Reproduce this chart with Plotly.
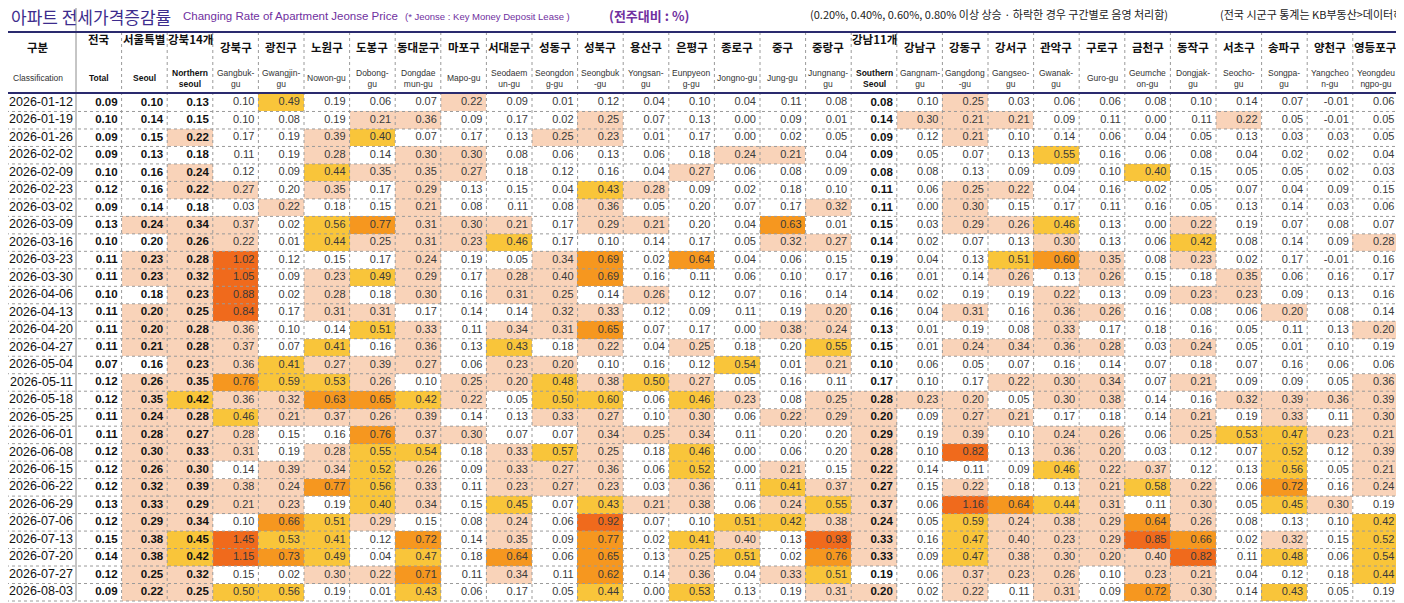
import plotly.graph_objects as go

# --- data -------------------------------------------------------------
dates = [
    "2026-01-12", "2026-01-19", "2026-01-26", "2026-02-02", "2026-02-09",
    "2026-02-23", "2026-03-02", "2026-03-09", "2026-03-16", "2026-03-23",
    "2026-03-30", "2026-04-06", "2026-04-13", "2026-04-20", "2026-04-27",
    "2026-05-04", "2026-05-11", "2026-05-18", "2026-05-25", "2026-06-01",
    "2026-06-08", "2026-06-15", "2026-06-22", "2026-06-29", "2026-07-06",
    "2026-07-13", "2026-07-20", "2026-07-27", "2026-08-03",
]

ko_heads = ["전국", "서울특별", "강북14개", "강북구", "광진구", "노원구", "도봉구",
            "동대문구", "마포구", "서대문구", "성동구", "성북구", "용산구", "은평구",
            "종로구", "중구", "중랑구", "강남11개", "강남구", "강동구", "강서구",
            "관악구", "구로구", "금천구", "동작구", "서초구", "송파구", "양천구",
            "영등포구"]

en_heads = ["Total", "Seoul", "Northern<br>seoul", "Gangbuk-<br>gu", "Gwangjin-<br>gu",
            "Nowon-gu", "Dobong-<br>gu", "Dongdae<br>mun-gu", "Mapo-gu",
            "Seodaem<br>un-gu", "Seongdon<br>g-gu", "Seongbuk<br>-gu", "Yongsan-<br>gu",
            "Eunpyeon<br>g-gu", "Jongno-gu", "Jung-gu", "Jungnang-<br>gu",
            "Southern<br>Seoul", "Gangnam-<br>gu", "Gangdong<br>-gu", "Gangseo-<br>gu",
            "Gwanak-<br>gu", "Guro-gu", "Geumche<br>on-gu", "Dongjak-<br>gu",
            "Seocho-<br>gu", "Songpa-<br>gu", "Yangcheo<br>n-gu", "Yeongdeu<br>ngpo-gu"]

# aggregate columns (전국, 서울, 강북14개구, 강남11개구) are printed in bold
bold_cols = [0, 1, 2, 17]

# weekly change (%), one list per week; a few values carry a third decimal
# where the sheet's shading shows which side of a band edge they fall on
wk_0112 = [0.09, 0.10, 0.13, 0.10, 0.49, 0.19, 0.06, 0.07, 0.22, 0.09, 0.01, 0.12, 0.04, 0.10, 0.04, 0.11, 0.08, 0.08, 0.10, 0.25, 0.03, 0.06, 0.06, 0.08, 0.10, 0.14, 0.07, -0.01, 0.06]
wk_0119 = [0.10, 0.14, 0.15, 0.10, 0.08, 0.19, 0.21, 0.36, 0.09, 0.17, 0.02, 0.25, 0.07, 0.13, 0.00, 0.09, 0.01, 0.14, 0.30, 0.21, 0.21, 0.09, 0.11, 0.00, 0.11, 0.22, 0.05, -0.01, 0.05]
wk_0126 = [0.09, 0.15, 0.22, 0.17, 0.19, 0.39, 0.40, 0.07, 0.17, 0.13, 0.25, 0.23, 0.01, 0.17, 0.00, 0.02, 0.05, 0.09, 0.12, 0.21, 0.10, 0.14, 0.06, 0.04, 0.05, 0.13, 0.03, 0.03, 0.05]
wk_0202 = [0.09, 0.13, 0.18, 0.11, 0.19, 0.28, 0.14, 0.30, 0.30, 0.08, 0.06, 0.13, 0.06, 0.18, 0.24, 0.21, 0.04, 0.09, 0.05, 0.07, 0.13, 0.55, 0.16, 0.06, 0.08, 0.04, 0.02, 0.02, 0.04]
wk_0209 = [0.10, 0.16, 0.24, 0.12, 0.09, 0.44, 0.35, 0.35, 0.27, 0.18, 0.12, 0.16, 0.04, 0.27, 0.06, 0.08, 0.09, 0.08, 0.08, 0.13, 0.09, 0.09, 0.10, 0.40, 0.15, 0.05, 0.05, 0.02, 0.03]
wk_0223 = [0.12, 0.16, 0.22, 0.27, 0.198, 0.35, 0.17, 0.29, 0.13, 0.15, 0.04, 0.43, 0.28, 0.09, 0.02, 0.18, 0.10, 0.11, 0.06, 0.25, 0.22, 0.04, 0.16, 0.02, 0.05, 0.07, 0.04, 0.09, 0.15]
wk_0302 = [0.09, 0.14, 0.18, 0.03, 0.22, 0.18, 0.15, 0.21, 0.08, 0.11, 0.08, 0.36, 0.05, 0.198, 0.07, 0.17, 0.32, 0.11, 0.00, 0.30, 0.15, 0.17, 0.11, 0.16, 0.05, 0.13, 0.14, 0.03, 0.06]
wk_0309 = [0.13, 0.24, 0.34, 0.37, 0.02, 0.56, 0.77, 0.31, 0.30, 0.21, 0.17, 0.29, 0.21, 0.198, 0.04, 0.63, 0.01, 0.15, 0.03, 0.29, 0.26, 0.46, 0.13, 0.00, 0.22, 0.19, 0.07, 0.08, 0.07]
wk_0316 = [0.10, 0.198, 0.26, 0.22, 0.01, 0.44, 0.25, 0.31, 0.23, 0.46, 0.17, 0.10, 0.14, 0.17, 0.05, 0.32, 0.27, 0.14, 0.02, 0.07, 0.13, 0.30, 0.13, 0.06, 0.42, 0.08, 0.14, 0.09, 0.28]
wk_0323 = [0.11, 0.23, 0.28, 1.02, 0.12, 0.15, 0.17, 0.24, 0.19, 0.05, 0.34, 0.69, 0.02, 0.64, 0.04, 0.06, 0.15, 0.19, 0.04, 0.13, 0.51, 0.60, 0.35, 0.08, 0.23, 0.02, 0.17, -0.01, 0.16]
wk_0330 = [0.11, 0.23, 0.32, 1.05, 0.09, 0.23, 0.49, 0.29, 0.17, 0.28, 0.398, 0.69, 0.16, 0.11, 0.06, 0.10, 0.17, 0.16, 0.01, 0.14, 0.26, 0.13, 0.26, 0.15, 0.18, 0.35, 0.06, 0.16, 0.17]
wk_0406 = [0.10, 0.18, 0.23, 0.88, 0.02, 0.28, 0.18, 0.30, 0.16, 0.31, 0.25, 0.14, 0.26, 0.12, 0.07, 0.16, 0.14, 0.14, 0.02, 0.19, 0.19, 0.22, 0.13, 0.09, 0.23, 0.23, 0.09, 0.13, 0.16]
wk_0413 = [0.11, 0.20, 0.25, 0.84, 0.17, 0.31, 0.31, 0.17, 0.14, 0.14, 0.32, 0.33, 0.12, 0.09, 0.11, 0.19, 0.20, 0.16, 0.04, 0.31, 0.16, 0.36, 0.26, 0.16, 0.08, 0.06, 0.20, 0.08, 0.14]
wk_0420 = [0.11, 0.20, 0.28, 0.36, 0.10, 0.14, 0.51, 0.33, 0.11, 0.34, 0.31, 0.65, 0.07, 0.17, 0.00, 0.38, 0.24, 0.13, 0.01, 0.19, 0.08, 0.33, 0.17, 0.18, 0.16, 0.05, 0.11, 0.13, 0.20]
wk_0427 = [0.11, 0.21, 0.28, 0.37, 0.07, 0.41, 0.16, 0.36, 0.13, 0.43, 0.18, 0.22, 0.04, 0.25, 0.18, 0.198, 0.55, 0.15, 0.01, 0.24, 0.34, 0.36, 0.28, 0.03, 0.24, 0.05, 0.01, 0.10, 0.19]
wk_0504 = [0.07, 0.16, 0.23, 0.36, 0.41, 0.27, 0.39, 0.27, 0.06, 0.23, 0.20, 0.10, 0.16, 0.12, 0.54, 0.01, 0.21, 0.10, 0.06, 0.05, 0.07, 0.16, 0.14, 0.07, 0.18, 0.07, 0.16, 0.06, 0.06]
wk_0511 = [0.12, 0.26, 0.35, 0.76, 0.59, 0.53, 0.26, 0.10, 0.25, 0.20, 0.48, 0.38, 0.50, 0.27, 0.05, 0.16, 0.11, 0.17, 0.10, 0.17, 0.22, 0.30, 0.34, 0.07, 0.21, 0.09, 0.09, 0.05, 0.36]
wk_0518 = [0.12, 0.35, 0.42, 0.36, 0.32, 0.63, 0.65, 0.42, 0.22, 0.05, 0.50, 0.598, 0.06, 0.46, 0.23, 0.08, 0.25, 0.28, 0.23, 0.20, 0.05, 0.30, 0.38, 0.14, 0.16, 0.32, 0.39, 0.36, 0.39]
wk_0525 = [0.11, 0.24, 0.28, 0.46, 0.21, 0.37, 0.26, 0.39, 0.14, 0.13, 0.33, 0.27, 0.10, 0.30, 0.06, 0.22, 0.29, 0.20, 0.09, 0.27, 0.21, 0.17, 0.18, 0.14, 0.21, 0.19, 0.33, 0.11, 0.30]
wk_0601 = [0.11, 0.28, 0.27, 0.28, 0.15, 0.16, 0.76, 0.37, 0.30, 0.07, 0.07, 0.34, 0.25, 0.34, 0.11, 0.198, 0.198, 0.29, 0.19, 0.39, 0.10, 0.24, 0.26, 0.06, 0.25, 0.53, 0.47, 0.23, 0.21]
wk_0608 = [0.12, 0.30, 0.33, 0.31, 0.19, 0.28, 0.55, 0.54, 0.18, 0.33, 0.57, 0.25, 0.18, 0.46, 0.00, 0.06, 0.198, 0.28, 0.10, 0.82, 0.13, 0.36, 0.20, 0.03, 0.12, 0.07, 0.52, 0.12, 0.39]
wk_0615 = [0.12, 0.26, 0.30, 0.14, 0.39, 0.34, 0.52, 0.26, 0.09, 0.33, 0.27, 0.36, 0.06, 0.52, 0.00, 0.21, 0.15, 0.22, 0.14, 0.11, 0.09, 0.46, 0.22, 0.37, 0.12, 0.13, 0.56, 0.05, 0.21]
wk_0622 = [0.12, 0.32, 0.39, 0.38, 0.24, 0.77, 0.56, 0.33, 0.11, 0.23, 0.27, 0.23, 0.03, 0.36, 0.11, 0.41, 0.37, 0.27, 0.15, 0.22, 0.18, 0.13, 0.21, 0.58, 0.22, 0.06, 0.72, 0.16, 0.24]
wk_0629 = [0.13, 0.33, 0.29, 0.21, 0.23, 0.19, 0.40, 0.34, 0.15, 0.45, 0.07, 0.43, 0.21, 0.38, 0.06, 0.24, 0.55, 0.37, 0.06, 1.16, 0.64, 0.44, 0.31, 0.11, 0.30, 0.05, 0.45, 0.30, 0.19]
wk_0706 = [0.12, 0.29, 0.34, 0.10, 0.66, 0.51, 0.29, 0.15, 0.08, 0.24, 0.06, 0.92, 0.07, 0.10, 0.51, 0.42, 0.38, 0.24, 0.05, 0.59, 0.24, 0.38, 0.29, 0.64, 0.26, 0.08, 0.13, 0.10, 0.42]
wk_0713 = [0.15, 0.38, 0.45, 1.45, 0.53, 0.41, 0.12, 0.72, 0.14, 0.35, 0.09, 0.77, 0.02, 0.41, 0.398, 0.13, 0.93, 0.33, 0.16, 0.47, 0.398, 0.23, 0.29, 0.85, 0.66, 0.02, 0.32, 0.15, 0.52]
wk_0720 = [0.14, 0.38, 0.42, 1.15, 0.73, 0.49, 0.04, 0.47, 0.18, 0.64, 0.06, 0.65, 0.13, 0.25, 0.51, 0.02, 0.76, 0.33, 0.09, 0.47, 0.38, 0.30, 0.20, 0.398, 0.82, 0.11, 0.48, 0.06, 0.54]
wk_0727 = [0.12, 0.25, 0.32, 0.15, 0.02, 0.30, 0.22, 0.71, 0.11, 0.34, 0.11, 0.62, 0.14, 0.36, 0.04, 0.33, 0.51, 0.19, 0.06, 0.37, 0.23, 0.26, 0.10, 0.23, 0.21, 0.04, 0.12, 0.18, 0.44]
wk_0803 = [0.09, 0.22, 0.25, 0.50, 0.56, 0.19, 0.01, 0.43, 0.06, 0.17, 0.05, 0.44, 0.00, 0.53, 0.13, 0.19, 0.31, 0.20, 0.02, 0.22, 0.11, 0.31, 0.09, 0.72, 0.30, 0.14, 0.43, 0.05, 0.19]

weeks = [wk_0112, wk_0119, wk_0126, wk_0202, wk_0209, wk_0223, wk_0302, wk_0309,
         wk_0316, wk_0323, wk_0330, wk_0406, wk_0413, wk_0420, wk_0427, wk_0504,
         wk_0511, wk_0518, wk_0525, wk_0601, wk_0608, wk_0615, wk_0622, wk_0629,
         wk_0706, wk_0713, wk_0720, wk_0727, wk_0803]

# shading bands: 0.20 / 0.40 / 0.60 / 0.80 % and up
bands = [0.2, 0.4, 0.6, 0.8]
fills = ["#ffffff", "#f9d3b9", "#f9c53a", "#f6971f", "#f06a1c"]

# --- geometry (axes run in page pixels) --------------------------------
W, H = 1404, 603
PAD = 8  # browser's default body margin shifts the figure by this much
DATE_W = 76
COL_W = 45.6
HEAD_TOP, HEAD_BOT = 32, 94
ROW_H = (601 - HEAD_BOT) / len(dates)

ncol = len(ko_heads)
x_edges = [DATE_W + i * COL_W for i in range(ncol + 1)]
y_edges = [HEAD_BOT + j * ROW_H for j in range(len(dates) + 1)]
y_mid = [(y_edges[j] + y_edges[j + 1]) / 2 for j in range(len(dates))]
x_mid = [(x_edges[i] + x_edges[i + 1]) / 2 for i in range(ncol)]

levels = [[sum(abs(v) >= b for b in bands) for v in wk] for wk in weeks]

scale = []
for k, c in enumerate(fills):
    scale += [[k / len(fills), c], [(k + 1) / len(fills), c]]

fig = go.Figure()
fig.add_trace(go.Heatmap(z=levels, x=x_edges, y=y_edges, zmin=-0.5, zmax=4.5,
                         colorscale=scale, showscale=False, hoverinfo="skip"))

# cell values, right aligned like the spreadsheet
for bold in (False, True):
    xs, ys, ts = [], [], []
    for j, wk in enumerate(weeks):
        for i, v in enumerate(wk):
            if (i in bold_cols) == bold:
                xs.append(x_edges[i + 1] - 4)
                ys.append(y_mid[j])
                ts.append(f"{v:.2f}")
    fig.add_trace(go.Scatter(
        x=xs, y=ys, text=ts, mode="text", textposition="middle left",
        hoverinfo="skip",
        textfont=dict(family="Liberation Sans", size=11.5 if bold else 11,
                      color="#111111" if bold else "#3a3a3a",
                      weight="bold" if bold else "normal")))

fig.add_trace(go.Scatter(
    x=[DATE_W - 3] * len(dates), y=y_mid, text=dates, mode="text",
    textposition="middle left", hoverinfo="skip",
    textfont=dict(family="Liberation Sans", size=12.5, color="#111111")))

# --- grid lines --------------------------------------------------------
shapes = []
for y in y_edges[1:]:
    shapes.append(dict(type="line", x0=0, x1=W, y0=y, y1=y,
                       line=dict(color="#9a9a9a", width=1, dash="dot")))
for x in x_edges[1:]:
    shapes.append(dict(type="line", x0=x, x1=x, y0=HEAD_TOP, y1=y_edges[-1],
                       line=dict(color="#9a9a9a", width=1, dash="dot")))
shapes.append(dict(type="line", x0=DATE_W, x1=DATE_W, y0=0, y1=y_edges[-1],
                   line=dict(color="#8c8c8c", width=1)))
for y in (HEAD_TOP, HEAD_BOT - 1):
    shapes.append(dict(type="line", x0=0, x1=W, y0=y, y1=y,
                       line=dict(color="#2a2a6e", width=2)))

# --- header and title text ---------------------------------------------
ko_font = dict(family="Noto Sans CJK KR", size=11.5, color="#111111", weight="bold")
en_font = dict(family="Liberation Sans", size=8.5, color="#333333")
ann = [
    dict(x=DATE_W / 2, y=47, text="구분", font=ko_font),
    dict(x=DATE_W / 2, y=78, text="Classification", font=en_font),
]
for i in range(ncol):
    top = i in bold_cols
    ann.append(dict(x=x_mid[i], y=39 if top else 47, text=ko_heads[i], font=ko_font))
    ann.append(dict(x=x_mid[i], y=78, text=en_heads[i],
                    font=dict(en_font, weight="bold", color="#111111") if top else en_font))

purple = "#7030a0"
ann += [
    dict(x=PAD + 0.5, y=16, text="아파트 전세가격증감률", xanchor="left",
         font=dict(family="Noto Sans CJK KR", size=17, color="#3d2c8d")),
    dict(x=181, y=16, text="Changing Rate of Apartment Jeonse Price", xanchor="left",
         font=dict(family="Liberation Sans", size=11.5, color=purple)),
    dict(x=403, y=16, text="(* Jeonse : Key Money Deposit Lease )", xanchor="left",
         font=dict(family="Liberation Sans", size=9.5, color=purple)),
    dict(x=607, y=15, text="(전주대비 : %)", xanchor="left",
         font=dict(family="Noto Sans CJK KR", size=13, color=purple, weight="bold")),
    dict(x=808, y=14, text="(0.20%, 0.40%, 0.60%, 0.80% 이상 상승 · 하락한 경우 구간별로 음영 처리함)",
         xanchor="left", font=dict(family="Noto Sans CJK KR", size=11, color="#222222")),
    dict(x=1218, y=14, text="(전국 시군구 통계는 KB부동산>데이터허브)", xanchor="left",
         font=dict(family="Noto Sans CJK KR", size=11, color="#222222")),
]
for a in ann:
    a.update(xref="x", yref="y", showarrow=False)
    a.setdefault("xanchor", "center")
    a.setdefault("yanchor", "middle")

fig.update_layout(
    width=W, height=H, margin=dict(l=0, r=0, t=0, b=0),
    paper_bgcolor="white", plot_bgcolor="white", showlegend=False,
    xaxis=dict(range=[PAD, W + PAD], visible=False, fixedrange=True),
    yaxis=dict(range=[H + PAD, PAD], visible=False, fixedrange=True),
    shapes=shapes, annotations=ann,
)
fig.write_html("out.html")
